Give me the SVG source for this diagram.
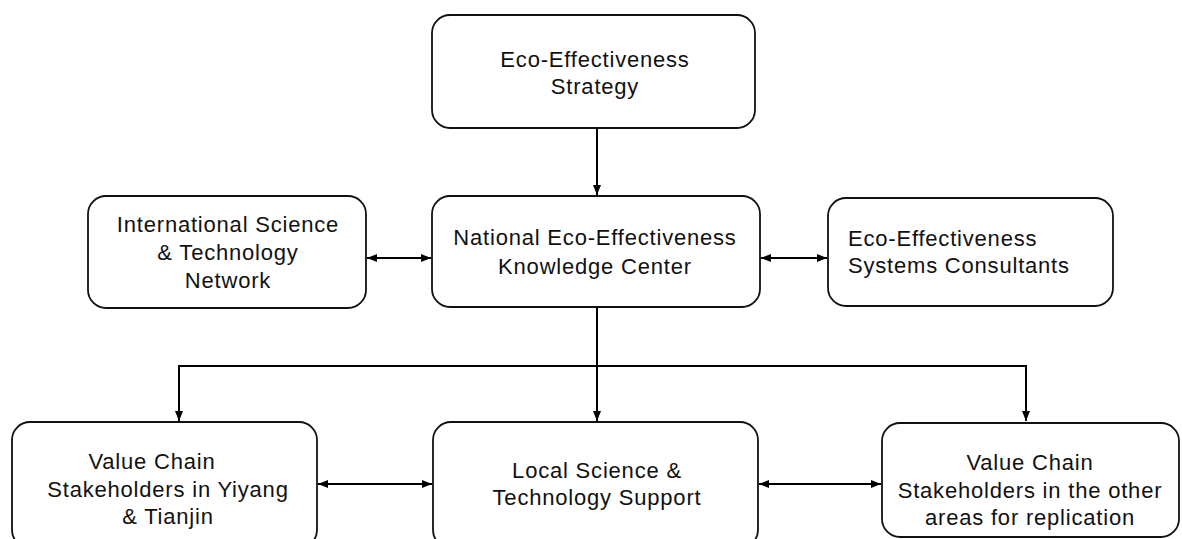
<svg xmlns="http://www.w3.org/2000/svg" width="1182" height="539" viewBox="0 0 1182 539">
  <defs>
    <marker id="arrow" viewBox="0 0 10 8" markerWidth="10" markerHeight="8" refX="10" refY="4" markerUnits="userSpaceOnUse" orient="auto-start-reverse">
      <path d="M0,0 L10,4 L0,8 z" fill="#000"/>
    </marker>
  </defs>
  <style>
    .box { fill: #ffffff; stroke: #111; stroke-width: 1.8; }
    .label { font-family: "Liberation Sans", Arial, sans-serif; font-size: 22px; letter-spacing: 0.8px; fill: #111; text-anchor: middle; }
    .left { text-anchor: start; }
    .conn { fill: none; stroke: #000; stroke-width: 2; }
  </style>
  <rect width="1182" height="539" fill="#ffffff"/>

  <g id="connectors">
    <path class="conn" d="M597,128 V195" marker-end="url(#arrow)"/>
    <path class="conn" d="M367,258 H431" marker-start="url(#arrow)" marker-end="url(#arrow)"/>
    <path class="conn" d="M761,258 H827" marker-start="url(#arrow)" marker-end="url(#arrow)"/>
    <path class="conn" d="M597,307 V421" marker-end="url(#arrow)"/>
    <path class="conn" d="M597,366 H179 V421" marker-end="url(#arrow)"/>
    <path class="conn" d="M597,366 H1026 V421" marker-end="url(#arrow)"/>
    <path class="conn" d="M318,484 H432" marker-start="url(#arrow)" marker-end="url(#arrow)"/>
    <path class="conn" d="M759,484 H881" marker-start="url(#arrow)" marker-end="url(#arrow)"/>
  </g>

  <g id="strategy">
    <rect class="box" x="432" y="15" width="323" height="113" rx="18"/>
    <text class="label" x="595" y="67">Eco-Effectiveness</text>
    <text class="label" x="595" y="94">Strategy</text>
  </g>

  <g id="international-network">
    <rect class="box" x="88" y="196" width="278" height="112" rx="18"/>
    <text class="label" x="228" y="232">International Science</text>
    <text class="label" x="228" y="260">&amp; Technology</text>
    <text class="label" x="228" y="288">Network</text>
  </g>

  <g id="knowledge-center">
    <rect class="box" x="432" y="196" width="328" height="111" rx="18"/>
    <text class="label" x="595" y="245">National Eco-Effectiveness</text>
    <text class="label" x="595" y="274">Knowledge Center</text>
  </g>

  <g id="systems-consultants">
    <rect class="box" x="828" y="198" width="285" height="108" rx="18"/>
    <text class="label left" x="848" y="246">Eco-Effectiveness</text>
    <text class="label left" x="848" y="273">Systems Consultants</text>
  </g>

  <g id="stakeholders-yiyang">
    <rect class="box" x="12" y="422" width="305" height="126" rx="18"/>
    <text class="label" x="152" y="469">Value Chain</text>
    <text class="label" x="168" y="497">Stakeholders in Yiyang</text>
    <text class="label" x="168" y="524">&amp; Tianjin</text>
  </g>

  <g id="local-support">
    <rect class="box" x="433" y="422" width="325" height="126" rx="18"/>
    <text class="label" x="597" y="478">Local Science &amp;</text>
    <text class="label" x="597" y="505">Technology Support</text>
  </g>

  <g id="stakeholders-other">
    <rect class="box" x="882" y="423" width="297" height="114" rx="18"/>
    <text class="label" x="1030" y="470">Value Chain</text>
    <text class="label" x="1030" y="498">Stakeholders in the other</text>
    <text class="label" x="1030" y="525">areas for replication</text>
  </g>
</svg>
